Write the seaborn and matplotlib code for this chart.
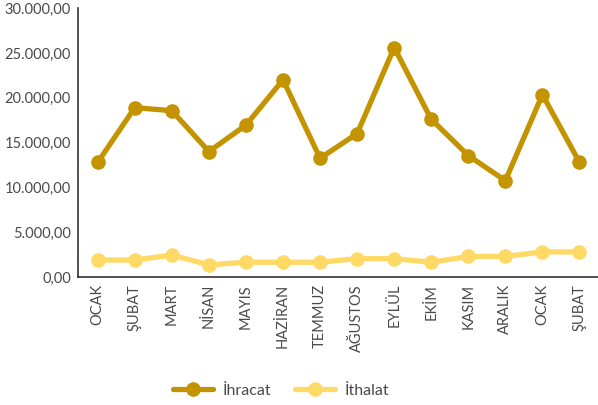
import pandas as pd
import matplotlib
matplotlib.use('Agg')
import matplotlib.pyplot as plt
import seaborn as sns
from matplotlib.ticker import FuncFormatter

# Data
months = ['OCAK', 'ŞUBAT', 'MART', 'NİSAN', 'MAYIS', 'HAZİRAN', 'TEMMUZ',
          'AĞUSTOS', 'EYLÜL', 'EKİM', 'KASIM', 'ARALIK', 'OCAK', 'ŞUBAT']
ihracat = [12800, 18900, 18550, 14000, 16950, 22000, 13250,
           16000, 25600, 17600, 13550, 10750, 20350, 12800]
ithalat = [1900, 1900, 2450, 1350, 1650, 1650, 1650,
           2050, 2050, 1650, 2300, 2300, 2800, 2800]
series = ['İhracat', 'İthalat']
colors = ['#C39300', '#FFD966']

df = pd.DataFrame({
    'idx': list(range(len(months))) * 2,
    'value': ihracat + ithalat,
    'series': [series[0]] * len(months) + [series[1]] * len(months),
})

sns.set_style('white')
plt.rcParams['font.family'] = ['Lato', 'DejaVu Sans']
text_color = '#4a4a4a'

fig = plt.figure(figsize=(5.98, 4.05), dpi=100)
ax = fig.add_axes([0.130, 0.316, 0.870, 0.664])

sns.lineplot(data=df, x='idx', y='value', hue='series', palette=colors,
             marker='o', markersize=10.5, linewidth=3.8, markeredgewidth=0,
             ax=ax)

ax.set_xlim(-0.54, 13.5)
ax.set_ylim(0, 30000)
ax.set_yticks(range(0, 30001, 5000))
ax.yaxis.set_major_formatter(FuncFormatter(
    lambda v, p: f'{v:,.2f}'.replace(',', 'X').replace('.', ',').replace('X', '.')))
ax.set_xticks(range(len(months)))
ax.set_xticklabels(months, rotation=90)
ax.tick_params(axis='both', length=0, labelsize=10.5, labelcolor=text_color, pad=5)
ax.set_xlabel('')
ax.set_ylabel('')

for s in ['top', 'right']:
    ax.spines[s].set_visible(False)
for s in ['left', 'bottom']:
    ax.spines[s].set_color('#333333')
    ax.spines[s].set_linewidth(1.2)

ax.legend_.remove()
handles, labels = ax.get_legend_handles_labels()
fig.legend(handles, labels, loc='center', bbox_to_anchor=(0.47, 0.035), ncol=2,
           frameon=False, fontsize=11.5, labelcolor=text_color,
           columnspacing=1.5, handlelength=2.5, handletextpad=0.6)

fig.savefig('out.png', dpi=100)
